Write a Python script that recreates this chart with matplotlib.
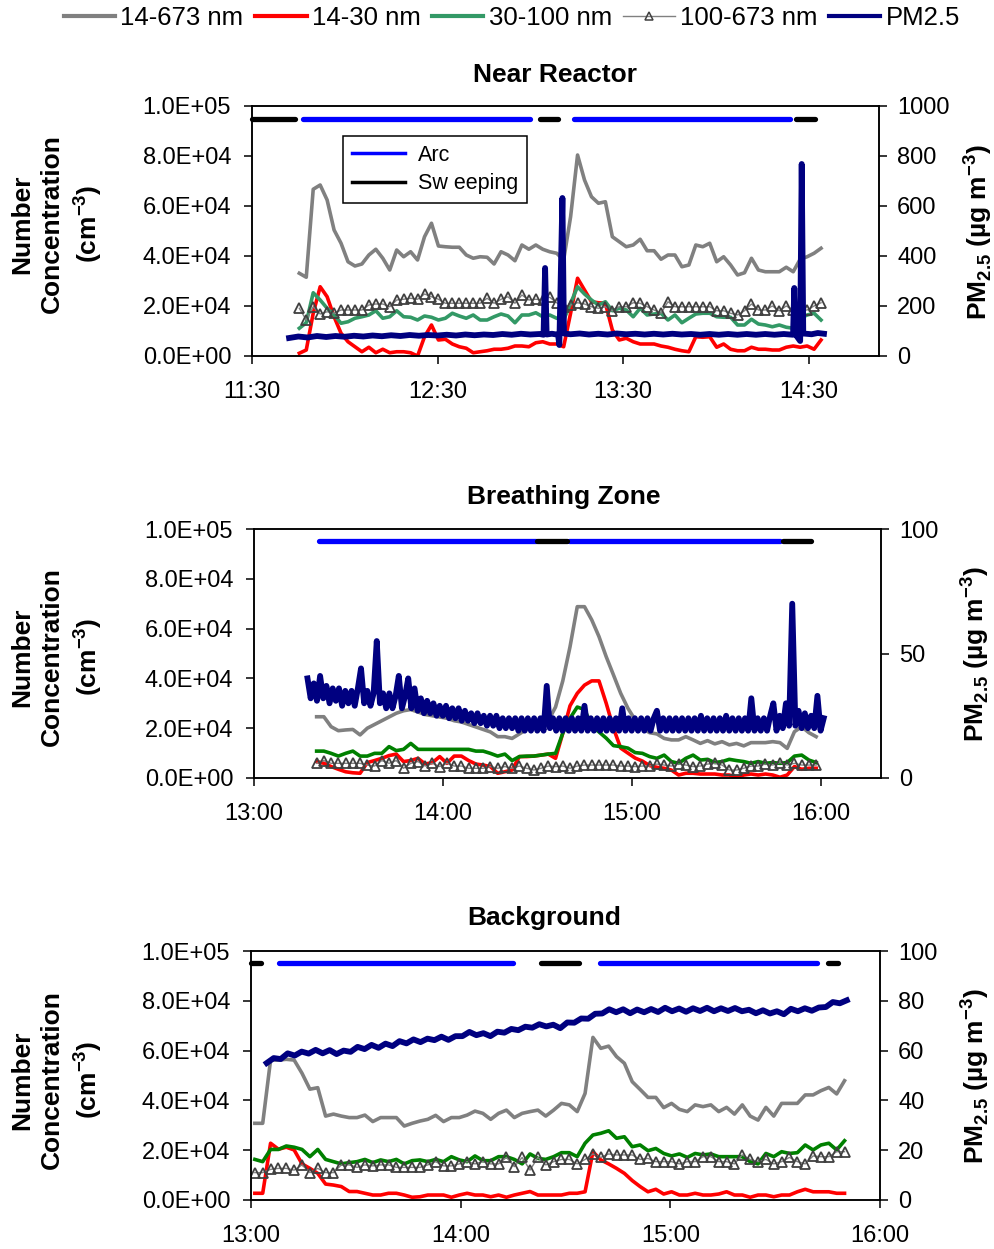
"""
plot.py
=========================================================
Particle number concentration and PM2.5 at three sampling
locations (near reactor, breathing zone, background)
=========================================================
"""

import numpy as np
import matplotlib
matplotlib.use("Agg")
import matplotlib.pyplot as plt
from matplotlib.lines import Line2D
from matplotlib.ticker import FixedLocator, FuncFormatter

# =========================================================
# Fonts
# =========================================================

plt.rcParams["font.family"] = ["Liberation Sans", "DejaVu Sans"]
plt.rcParams["mathtext.fontset"] = "custom"
plt.rcParams["mathtext.rm"] = "Liberation Sans"
plt.rcParams["mathtext.bf"] = "Liberation Sans:bold"

# =========================================================
# Data (number concentrations in units of 1E+04 cm-3)
# =========================================================

SERIES_LABELS = ["14-673 nm", "14-30 nm", "30-100 nm", "100-673 nm", "PM2.5"]

# ---- Near Reactor: SMPS scans start 11:45.3, every 2.25 min
NR_START = "11:45.3"
NR_STEP = 2.25

nr_total = [3.31, 3.15, 6.67, 6.84, 6.24, 5.04, 4.51, 3.77, 3.60, 3.68,
            4.04, 4.27, 3.91, 3.44, 4.24, 3.97, 4.17, 3.84, 4.77, 5.31,
            4.40, 4.37, 4.35, 4.35, 4.04, 3.91, 3.97, 3.95, 3.68, 4.17,
            4.04, 3.81, 4.44, 4.27, 4.44, 4.27, 4.17, 4.11,
            3.84, 5.57, 8.04, 7.04, 6.37, 6.11, 6.17, 4.77, 4.57, 4.37,
            4.44, 4.67, 4.21, 4.21, 3.87, 4.04, 4.04, 3.57, 3.64, 4.44,
            4.37, 4.51, 3.77, 3.97, 3.64, 3.24, 3.33, 3.91, 3.44, 3.37,
            3.37, 3.37, 3.55, 3.37, 3.87, 3.97, 4.11, 4.31]

nr_small = [0.11, 0.24, 1.71, 2.77, 2.37, 1.57, 0.91, 0.57, 0.37, 0.17,
            0.35, 0.13, 0.27, 0.13, 0.17, 0.17, 0.13, 0.00, 0.77, 1.24,
            0.64, 0.67, 0.48, 0.37, 0.31, 0.13, 0.17, 0.21, 0.27, 0.27,
            0.31, 0.40, 0.40, 0.37, 0.53, 0.57, 0.48, 0.48,
            0.37, 1.71, 3.11, 2.64, 2.17, 2.13, 2.11, 1.04, 0.64, 0.71,
            0.57, 0.48, 0.48, 0.48, 0.40, 0.35, 0.27, 0.21, 0.17, 0.77,
            0.75, 0.77, 0.35, 0.48, 0.27, 0.21, 0.21, 0.35, 0.27, 0.27,
            0.24, 0.24, 0.35, 0.40, 0.35, 0.40, 0.27, 0.64]

nr_mid = [1.11, 1.33, 2.53, 2.24, 1.91, 1.64, 1.31, 1.37, 1.51, 1.57,
          1.64, 1.81, 1.51, 1.57, 1.81, 1.57, 1.55, 1.44, 1.60, 1.55,
          1.44, 1.51, 1.71, 1.60, 1.51, 1.64, 1.44, 1.44, 1.57, 1.68,
          1.60, 1.33, 1.64, 1.64, 1.73, 1.57, 1.64, 1.51,
          1.44, 2.11, 2.77, 2.48, 2.24, 2.04, 2.17, 1.81, 1.91, 1.84,
          1.57, 1.91, 1.64, 1.68, 1.71, 1.44, 1.64, 1.33, 1.51, 1.68,
          1.71, 1.71, 1.57, 1.55, 1.55, 1.24, 1.24, 1.47, 1.28, 1.24,
          1.17, 1.24, 1.15, 1.11, 1.51, 1.64, 1.71, 1.44]

nr_large = [1.91, 1.44, 1.97, 1.68, 1.77, 1.71, 1.84, 1.84, 1.84, 1.84,
            2.04, 2.08, 2.08, 1.97, 2.24, 2.27, 2.31, 2.27, 2.48, 2.37,
            2.27, 2.11, 2.11, 2.11, 2.11, 2.11, 2.11, 2.31, 2.11, 2.27,
            2.37, 2.11, 2.44, 2.24, 2.27, 2.24, 2.35, 2.13,
            1.97, 2.04, 2.13, 2.08, 1.97, 1.91, 1.97, 1.81, 1.97, 1.97,
            2.13, 2.11, 1.97, 1.84, 1.71, 2.17, 1.97, 1.97, 1.97, 1.97,
            1.97, 1.97, 1.81, 1.81, 1.71, 1.64, 1.81, 2.08, 1.84, 1.84,
            2.00, 1.81, 2.00, 1.84, 1.84, 1.84, 2.00, 2.13]

# PM2.5 (ug m-3), minutes after 11:30
nr_pm_min = [12, 15, 18, 21, 24, 27, 30, 33, 36, 39, 42, 45, 48, 51, 54,
             57, 60, 63, 66, 69, 72, 75, 78, 81, 84, 87, 90, 93, 94.3, 94.8,
             95.3, 97, 99.0, 99.4, 100.4, 100.9, 103, 106, 109, 112, 115,
             118, 121, 124, 127, 130, 133, 136, 139, 142, 145, 148, 151,
             154, 157, 160, 163, 166, 169, 172, 175.0, 175.4, 175.8, 177.3,
             177.8, 178.3, 181, 183, 185]
nr_pm = [72, 78, 74, 80, 76, 80, 77, 81, 78, 82, 79, 83, 80, 84, 81,
         84, 82, 85, 82, 86, 83, 86, 84, 88, 85, 89, 86, 88, 85, 352,
         86, 89, 85, 44, 632, 90, 87, 90, 86, 89, 86,
         90, 87, 89, 86, 89, 86, 89, 86, 88, 85, 88, 85,
         88, 85, 88, 85, 88, 85, 88, 85, 272, 86, 60,
         768, 90, 87, 92, 89]

nr_arc = [("11:46.5", "13:00"), ("13:14", "14:24")]
nr_sweep = [("11:30", "11:44"), ("13:03", "13:09"), ("14:26", "14:32")]

# ---- Breathing Zone: SMPS scans start 13:19.9, every 2.3 min
BZ_START = "13:19.9"
BZ_STEP = 2.3

bz_total = [2.46, 2.46, 2.06, 1.90, 1.93, 1.95, 1.73, 2.00, 2.15, 2.30,
            2.45, 2.60, 2.70, 2.75, 2.65, 2.55, 2.50, 2.45, 2.40, 2.30,
            2.25, 2.15, 2.05, 1.95, 1.85, 1.66, 1.66, 1.59, 1.77, 1.95,
            2.05, 2.10, 2.30, 2.85, 3.90, 5.27, 6.88, 6.88, 6.35, 5.68,
            4.87, 4.14, 3.40, 2.80, 2.33, 1.99, 1.82, 1.77, 1.59, 1.53,
            1.53, 1.66, 1.53, 1.39, 1.50, 1.37, 1.46, 1.33, 1.39, 1.29,
            1.42, 1.42, 1.42, 1.46, 1.42, 1.19, 1.86, 2.06, 1.82, 1.66]

bz_small = [0.66, 0.59, 0.46, 0.35, 0.25, 0.21, 0.19, 0.62, 0.70, 0.79,
            0.90, 0.96, 0.66, 0.70, 0.79, 0.56, 0.62, 0.86, 0.59, 0.88,
            0.88, 0.70, 0.56, 0.52, 0.46, 0.19, 0.25, 0.32, 0.86, 0.86,
            0.88, 0.92, 0.96, 0.79, 1.80, 2.90, 3.40, 3.73, 3.90, 3.90,
            3.00, 2.00, 1.20, 1.00, 0.80, 0.68, 0.50, 0.43, 0.39, 0.32,
            0.12, 0.19, 0.19, 0.16, 0.16, 0.16, 0.12, 0.12, 0.03, 0.12,
            0.16, 0.12, 0.16, 0.12, 0.03, 0.12, 0.46, 0.35, 0.39, 0.39]

bz_mid = [1.08, 1.08, 0.99, 0.88, 0.99, 1.08, 0.88, 0.88, 0.99, 0.99,
          1.26, 1.10, 1.15, 1.39, 1.15, 1.15, 1.15, 1.15, 1.15, 1.15,
          1.15, 1.15, 1.08, 1.08, 0.99, 0.88, 0.96, 0.70, 0.86, 0.88,
          0.88, 0.92, 0.96, 0.99, 1.80, 2.40, 2.85, 2.75, 2.10, 1.85,
          1.60, 1.30, 1.26, 1.20, 1.02, 0.99, 0.86, 0.79, 0.92, 0.66,
          0.59, 0.79, 0.92, 0.72, 0.75, 0.62, 0.66, 0.75, 0.70, 0.66,
          0.59, 0.66, 0.59, 0.62, 0.59, 0.62, 0.88, 0.92, 0.72, 0.62]

bz_large = [0.59, 0.70, 0.59, 0.59, 0.59, 0.59, 0.59, 0.52, 0.48, 0.70,
            0.59, 0.70, 0.39, 0.59, 0.66, 0.48, 0.59, 0.46, 0.59, 0.48,
            0.48, 0.39, 0.39, 0.39, 0.46, 0.39, 0.46, 0.39, 0.48, 0.39,
            0.32, 0.39, 0.48, 0.46, 0.48, 0.39, 0.48, 0.52, 0.52, 0.52,
            0.52, 0.52, 0.48, 0.48, 0.46, 0.48, 0.48, 0.56, 0.52, 0.48,
            0.56, 0.52, 0.46, 0.48, 0.56, 0.59, 0.52, 0.32, 0.32, 0.39,
            0.48, 0.48, 0.56, 0.52, 0.62, 0.52, 0.59, 0.52, 0.52, 0.52]

# PM2.5 once a minute from 13:17
BZ_PM_START = "13:17"
bz_pm = [40, 32, 38, 31, 41, 32, 37, 30, 36, 31,
         36, 29, 35, 30, 35, 29, 36, 44, 30, 35,
         29, 34, 55, 30, 34, 28, 34, 28, 33, 41,
         28, 33, 40, 28, 36, 27, 32, 26, 31, 26,
         30, 25, 29, 25, 29, 24, 28, 24, 28, 23,
         27, 23, 26, 22, 26, 22, 25, 21, 25, 21,
         25, 20, 24, 20, 24, 20, 24, 19, 24, 19,
         24, 19, 24, 19, 24, 19, 37, 20, 24, 19,
         24, 19, 24, 19, 24, 19, 24, 19, 29, 19,
         24, 19, 24, 19, 24, 19, 24, 19, 24, 19,
         28, 19, 24, 19, 24, 19, 24, 19, 24, 19,
         24, 27, 19, 24, 19, 24, 19, 24, 19, 24,
         19, 24, 19, 24, 19, 25, 19, 24, 19, 24,
         19, 24, 19, 25, 19, 24, 19, 24, 19, 24,
         19, 32, 19, 24, 19, 24, 19, 25, 30, 19,
         25, 20, 30, 21, 70, 21, 27, 20, 26, 20,
         25, 20, 33, 19, 24]

bz_arc = [("13:20.8", "14:29.6"), ("14:40", "15:47")]
bz_sweep = [("14:30", "14:39.5"), ("15:48", "15:57")]

# ---- Background: SMPS scans start 13:01.1, every 2.25 min
BG_START = "13:01.1"
BG_STEP = 2.25

bg_total = [3.08, 3.08, 5.62, 5.62, 5.65, 5.62, 5.09, 4.45, 4.51, 3.37,
            3.45, 3.37, 3.31, 3.31, 3.41, 3.15, 3.31, 3.31, 3.31, 2.97,
            3.08, 3.17, 3.24, 3.40, 3.15, 3.31, 3.31, 3.41, 3.57, 3.48,
            3.24, 3.48, 3.61, 3.31, 3.48, 3.55, 3.61,
            3.37, 3.61, 3.88, 3.82, 3.55, 4.28, 6.53, 6.09, 6.18, 5.76,
            5.49, 4.75, 4.44, 4.12, 4.12, 3.71, 3.88, 3.64, 3.55, 3.82,
            3.75, 3.82, 3.55, 3.72, 3.45, 3.82, 3.37, 3.21, 3.72, 3.37,
            3.88, 3.88, 3.88, 4.22, 4.22, 4.39, 4.52, 4.26, 4.79]

bg_small = [0.27, 0.27, 2.28, 2.04, 2.12, 2.01, 1.45, 1.27, 1.07, 0.64,
            0.60, 0.54, 0.34, 0.34, 0.27, 0.20, 0.20, 0.27, 0.27, 0.20,
            0.11, 0.13, 0.20, 0.20, 0.20, 0.11, 0.20, 0.27, 0.20, 0.20,
            0.13, 0.20, 0.11, 0.20, 0.27, 0.34, 0.20,
            0.20, 0.20, 0.20, 0.27, 0.27, 0.33, 1.94, 1.61, 1.45, 1.27,
            1.07, 0.78, 0.54, 0.33, 0.43, 0.24, 0.33, 0.20, 0.20, 0.27,
            0.20, 0.20, 0.24, 0.33, 0.20, 0.20, 0.11, 0.20, 0.20, 0.13,
            0.20, 0.20, 0.33, 0.43, 0.33, 0.33, 0.33, 0.27, 0.27]

bg_mid = [1.63, 1.54, 2.03, 2.03, 2.17, 2.12, 2.03, 1.74, 2.03, 1.63,
          1.54, 1.45, 1.50, 1.54, 1.63, 1.50, 1.61, 1.54, 1.63, 1.45,
          1.58, 1.61, 1.54, 1.63, 1.54, 1.74, 1.61, 1.54, 1.77, 1.58,
          1.58, 1.74, 1.74, 1.63, 1.45, 1.85, 1.67,
          1.63, 1.74, 1.90, 1.90, 1.74, 2.28, 2.61, 2.68, 2.78, 2.48,
          2.54, 2.14, 2.21, 1.98, 2.07, 1.87, 1.77, 1.85, 1.71, 1.87,
          1.81, 1.85, 1.74, 1.74, 1.74, 1.74, 1.54, 1.45, 1.87, 1.74,
          1.94, 1.87, 1.90, 2.21, 2.01, 2.21, 2.28, 2.01, 2.38]

bg_large = [1.10, 1.10, 1.23, 1.27, 1.27, 1.20, 1.41, 1.10, 1.27, 1.10,
            1.10, 1.41, 1.41, 1.31, 1.41, 1.37, 1.41, 1.41, 1.31, 1.31,
            1.31, 1.31, 1.41, 1.54, 1.37, 1.37, 1.45, 1.54, 1.45, 1.54,
            1.45, 1.45, 1.71, 1.34, 1.71, 1.20, 1.71,
            1.41, 1.54, 1.63, 1.63, 1.45, 1.63, 1.85, 1.71, 1.85, 1.81,
            1.81, 1.81, 1.63, 1.67, 1.54, 1.54, 1.54, 1.45, 1.54, 1.54,
            1.74, 1.74, 1.54, 1.54, 1.45, 1.81, 1.63, 1.54, 1.63, 1.45,
            1.54, 1.71, 1.54, 1.45, 1.77, 1.74, 1.74, 1.94, 1.94]

# PM2.5 every 2 min from 13:04.5
BG_PM_START = "13:04.5"
bg_pm = [55.0, 57.0, 56.6, 58.9, 58.0, 59.6, 58.8, 60.3, 58.9, 60.2,
         58.6, 60.0, 59.5, 61.5, 60.6, 62.3, 61.1, 62.8, 61.8, 63.8,
         62.9, 64.5, 63.4, 64.8, 64.2, 65.6, 64.3, 65.8, 65.8, 67.5,
         66.2, 67.0, 65.8, 67.6, 67.2, 68.7, 68.2, 69.6, 69.2, 70.6,
         69.7, 70.4, 69.0, 71.3, 71.2, 72.9, 72.8, 74.8, 74.9, 76.6,
         75.4, 76.6, 75.0, 76.5, 75.4, 76.7, 75.5, 77.2, 75.8, 76.9,
         75.6, 77.0, 75.9, 77.2, 75.8, 77.0, 75.9, 77.1, 75.8, 76.4,
         75.0, 76.2, 74.9, 75.8, 74.6, 76.8, 75.8, 77.0, 76.0, 77.3,
         77.5, 79.5, 79.0, 80.2]

bg_arc = [("13:08", "14:15"), ("14:40", "15:42")]
bg_sweep = [("13:00", "13:03"), ("14:23", "14:34"), ("15:45", "15:48")]

# =========================================================
# Styles
# =========================================================

C_TOTAL = "#808080"
C_SMALL = "#FF0000"
C_MID_NR = "#339966"
C_MID = "#008000"
C_LARGE = "#404040"
C_PM = "#000080"
C_ARC = "#0000FF"
C_SWEEP = "#000000"

ACTIVITY_Y = 95000
TICK_FS = 17
LABEL_FS = 19


def to_hours(hhmm):
    h, m = hhmm.split(":")
    return int(h) + float(m) / 60.0


def scan_times(start, step, n):
    return to_hours(start) + step * np.arange(n) / 60.0


def fmt_time(x, pos):
    h = int(np.floor(x + 1e-6))
    m = int(round((x - h) * 60))
    return f"{h}:{m:02d}"


def fmt_sci(v, pos):
    return f"{v:.1E}"


# =========================================================
# Panel
# =========================================================

def draw_panel(ax, t, total, small, mid, large, mid_color,
               pm_t, pm, pm_ticks, arcs, sweeps, xlim, xticks, pm_lw):

    scale = 1e4

    ax.plot(t, np.array(total) * scale, color=C_TOTAL, lw=2.6)
    ax.plot(t, np.array(small) * scale, color=C_SMALL, lw=2.6)
    ax.plot(t, np.array(mid) * scale, color=mid_color, lw=2.6)
    ax.plot(t, np.array(large) * scale, color=C_TOTAL, lw=1.0,
            marker="^", ms=7.5, mfc="none", mec=C_LARGE, mew=1.3)

    for a, b in arcs:
        ax.plot([to_hours(a), to_hours(b)], [ACTIVITY_Y, ACTIVITY_Y],
                color=C_ARC, lw=3.8, solid_capstyle="round", clip_on=False)
    for a, b in sweeps:
        ax.plot([to_hours(a), to_hours(b)], [ACTIVITY_Y, ACTIVITY_Y],
                color=C_SWEEP, lw=3.8, solid_capstyle="round", clip_on=False)

    ax.set_xlim(*xlim)
    ax.set_ylim(0, 1e5)
    ax.yaxis.set_major_locator(FixedLocator(np.arange(0, 1.01e5, 2e4)))
    ax.yaxis.set_major_formatter(FuncFormatter(fmt_sci))
    ax.xaxis.set_major_locator(FixedLocator(xticks))
    ax.xaxis.set_major_formatter(FuncFormatter(fmt_time))
    ax.tick_params(axis="y", direction="out", length=6, width=1.1,
                   labelsize=TICK_FS, pad=9)
    ax.tick_params(axis="x", direction="out", length=6, width=1.1,
                   labelsize=TICK_FS, pad=12)

    ax2 = ax.twinx()
    ax2.plot(pm_t, pm, color=C_PM, lw=pm_lw, solid_joinstyle="round")
    ax2.set_ylim(0, pm_ticks[-1])
    ax2.yaxis.set_major_locator(FixedLocator(pm_ticks))
    ax2.tick_params(axis="y", direction="out", length=6, width=1.1,
                    labelsize=TICK_FS, pad=7)

    for a in (ax, ax2):
        for sp in a.spines.values():
            sp.set_linewidth(1.1)

    return ax2


# =========================================================
# Figure
# =========================================================

W, H = 994, 1249
fig = plt.figure(figsize=(W / 100, H / 100), dpi=100)


def px_axes(left, top, right, bottom):
    return fig.add_axes([left / W, 1 - bottom / H,
                         (right - left) / W, (bottom - top) / H])


ax_nr = px_axes(252, 106, 879, 356)
ax_bz = px_axes(254, 529, 881, 778)
ax_bg = px_axes(251, 951, 880, 1200)

nr_t = scan_times(NR_START, NR_STEP, len(nr_total))
nr_pm_t = to_hours("11:30") + np.array(nr_pm_min) / 60.0
ax2_nr = draw_panel(ax_nr, nr_t, nr_total, nr_small, nr_mid, nr_large,
                    C_MID_NR, nr_pm_t, nr_pm, [0, 200, 400, 600, 800, 1000],
                    nr_arc, nr_sweep, (11.5, 14.88),
                    [11.5, 12.5, 13.5, 14.5], 4.2)

bz_t = scan_times(BZ_START, BZ_STEP, len(bz_total))
bz_pm_t = scan_times(BZ_PM_START, 1.0, len(bz_pm))
draw_panel(ax_bz, bz_t, bz_total, bz_small, bz_mid, bz_large,
           C_MID, bz_pm_t, bz_pm, [0, 50, 100],
           bz_arc, bz_sweep, (13.0, 16.32), [13, 14, 15, 16], 4.2)

bg_t = scan_times(BG_START, BG_STEP, len(bg_total))
bg_pm_t = scan_times(BG_PM_START, 2.0, len(bg_pm))
draw_panel(ax_bg, bg_t, bg_total, bg_small, bg_mid, bg_large,
           C_MID, bg_pm_t, bg_pm, [0, 20, 40, 60, 80, 100],
           bg_arc, bg_sweep, (13.0, 16.0), [13, 14, 15, 16], 4.2)

# =========================================================
# Titles and axis labels
# =========================================================

titles = [("Near Reactor", 555, 75), ("Breathing Zone", 564, 497),
          ("Background", 544, 918)]
for text, x, y in titles:
    fig.text(x / W, 1 - y / H, text, ha="center", va="center",
             fontsize=LABEL_FS, fontweight="bold")

left_label = "Number\nConcentration\n(cm$^{\\mathbf{-3}}$)"
right_label = "PM$_{\\mathbf{2.5}}$ (\u00b5g m$^{\\mathbf{-3}}$)"
for yc, yr, xr in [(224, 232, 978), (657, 654, 975), (1080, 1076, 975)]:
    fig.text(57 / W, 1 - yc / H, left_label, rotation=90, ha="center",
             va="center", fontsize=LABEL_FS, fontweight="bold",
             multialignment="center", linespacing=1.3)
    fig.text(xr / W, 1 - yr / H, right_label, rotation=90, ha="center",
             va="center", fontsize=LABEL_FS, fontweight="bold")

# =========================================================
# Legends
# =========================================================

act_handles = [Line2D([], [], color=C_ARC, lw=2.5),
               Line2D([], [], color=C_SWEEP, lw=2.5)]
leg = ax2_nr.legend(act_handles, ["Arc", "Sw eeping"], loc="upper left",
                    bbox_to_anchor=(343 / W, 1 - 136 / H),
                    bbox_transform=fig.transFigure, borderaxespad=0,
                    fontsize=15.5, frameon=True, fancybox=False,
                    edgecolor="black", framealpha=1, handlelength=2.5,
                    handletextpad=0.6, labelspacing=0.35, borderpad=0.4)
leg.get_frame().set_linewidth(1.1)

top_handles = [Line2D([], [], color=C_TOTAL, lw=3),
               Line2D([], [], color=C_SMALL, lw=3),
               Line2D([], [], color=C_MID_NR, lw=3),
               Line2D([], [], color=C_TOTAL, lw=1, marker="^", ms=6,
                      mfc="none", mec=C_LARGE, mew=1.1),
               Line2D([], [], color=C_PM, lw=3)]
fig.legend(top_handles, SERIES_LABELS, loc="center",
           bbox_to_anchor=(0.515, 1 - 18 / H), ncol=5, frameon=False,
           fontsize=18.5, handlelength=2.0, handletextpad=0.2,
           columnspacing=0.45)

fig.savefig("out.png", dpi=100)
